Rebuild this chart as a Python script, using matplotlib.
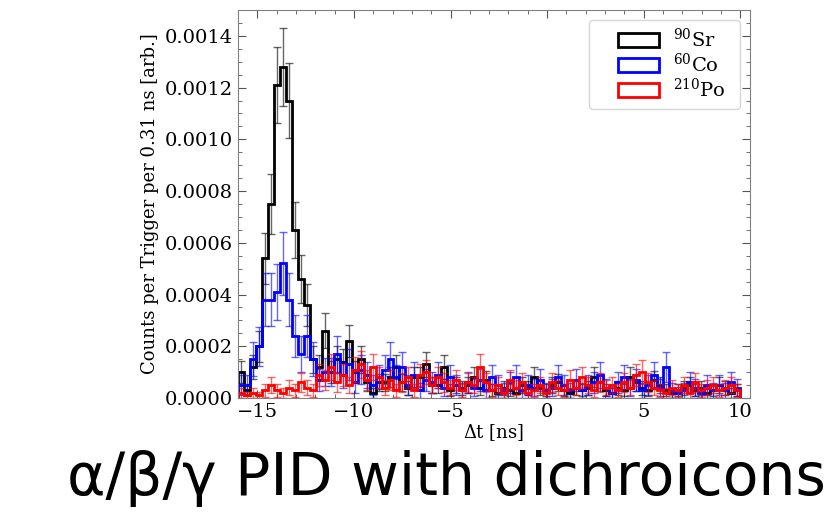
import numpy as np
import matplotlib
matplotlib.use('Agg')
import matplotlib.pyplot as plt
from matplotlib.patches import Rectangle, Polygon
from matplotlib.legend_handler import HandlerPatch

plt.rcParams['font.family'] = 'DejaVu Serif'
plt.rcParams['mathtext.fontset'] = 'dejavuserif'

# binning: 84 bins of ~0.31 ns between -16 and 10 ns
t_lo, t_hi, n_bins = -16.0, 10.0, 84

# counts per trigger per bin, in units of 1e-4
sr90 = [1.0, 0.3, 1.2, 2.0, 5.4, 7.5, 12.1, 12.8, 11.5, 6.5,
        4.6, 3.6, 1.5, 1.2, 2.6, 1.0, 1.5, 1.4, 2.2, 1.0,
        1.5, 0.6, 0.2, 0.6, 0.6, 0.8, 1.2, 0.6, 0.4, 0.8,
        0.8, 1.3, 0.5, 0.5, 1.2, 0.3, 0.5, 0.4, 0.5, 0.8,
        0.4, 0.7, 0.3, 0.2, 0.4, 0.3, 0.2, 0.5, 0.4, 0.8,
        0.4, 0.3, 0.5, 0.6, 0.3, 0.2, 0.4, 0.3, 0.4, 0.8,
        0.6, 0.3, 0.2, 0.4, 0.3, 0.8, 0.6, 0.4, 0.3, 0.7,
        0.5, 0.3, 0.2, 0.3, 0.4, 0.5, 0.3, 0.4, 0.2, 0.3,
        0.5, 0.4, 0.2, 0.3]
sr90_err = [0.42, 0.23, 0.46, 0.60, 0.99, 1.16, 1.48, 1.52, 1.44, 1.08,
            0.91, 0.80, 0.52, 0.46, 0.68, 0.42, 0.52, 0.50, 0.63, 0.42,
            0.52, 0.33, 0.19, 0.33, 0.33, 0.38, 0.46, 0.33, 0.27, 0.38,
            0.38, 0.48, 0.30, 0.30, 0.46, 0.23, 0.30, 0.27, 0.30, 0.38,
            0.27, 0.35, 0.23, 0.19, 0.27, 0.23, 0.19, 0.30, 0.27, 0.38,
            0.27, 0.23, 0.30, 0.33, 0.23, 0.19, 0.27, 0.23, 0.27, 0.38,
            0.33, 0.23, 0.19, 0.27, 0.23, 0.38, 0.33, 0.27, 0.23, 0.35,
            0.30, 0.23, 0.19, 0.23, 0.27, 0.30, 0.23, 0.27, 0.19, 0.23,
            0.30, 0.27, 0.19, 0.23]

co60 = [0.5, 0.5, 1.5, 2.0, 3.8, 3.8, 4.1, 5.2, 3.8, 2.4,
        1.7, 2.4, 1.5, 0.7, 1.0, 1.0, 1.7, 0.9, 1.3, 0.6,
        1.1, 0.9, 0.5, 0.8, 1.1, 1.5, 0.8, 1.2, 0.5, 0.9,
        0.3, 0.7, 0.6, 0.9, 0.4, 0.8, 0.5, 0.3, 0.6, 0.4,
        0.7, 0.3, 0.8, 0.5, 0.3, 0.6, 0.8, 0.3, 0.5, 0.4,
        0.7, 0.3, 0.4, 0.8, 0.5, 0.3, 0.7, 0.3, 0.5, 0.6,
        0.9, 0.4, 0.2, 0.6, 0.8, 0.4, 0.7, 0.3, 0.5, 0.9,
        0.4, 1.2, 0.3, 0.2, 0.3, 0.6, 0.4, 0.2, 0.5, 0.3,
        0.5, 0.3, 0.6, 0.4]
co60_err = [0.37, 0.37, 0.65, 0.75, 1.03, 1.03, 1.07, 1.21, 1.03, 0.82,
            0.69, 0.82, 0.65, 0.44, 0.53, 0.53, 0.69, 0.50, 0.60, 0.41,
            0.55, 0.50, 0.37, 0.47, 0.55, 0.65, 0.47, 0.58, 0.37, 0.50,
            0.29, 0.44, 0.41, 0.50, 0.33, 0.47, 0.37, 0.29, 0.41, 0.33,
            0.44, 0.29, 0.47, 0.37, 0.29, 0.41, 0.47, 0.29, 0.37, 0.33,
            0.44, 0.29, 0.33, 0.47, 0.37, 0.29, 0.44, 0.29, 0.37, 0.41,
            0.50, 0.33, 0.24, 0.41, 0.47, 0.33, 0.44, 0.29, 0.37, 0.50,
            0.33, 0.58, 0.29, 0.24, 0.29, 0.41, 0.33, 0.24, 0.37, 0.29,
            0.37, 0.29, 0.41, 0.33]

po210 = [0.2, 0.1, 0.2, 0.1, 0.3, 0.5, 0.3, 0.2, 0.4, 0.3,
         0.6, 0.4, 0.3, 0.9, 0.7, 1.2, 0.6, 0.9, 0.5, 1.1,
         1.3, 0.7, 1.2, 0.8, 0.4, 0.7, 0.3, 0.6, 0.8, 0.3,
         0.9, 1.0, 0.5, 0.8, 0.6, 0.4, 0.7, 0.3, 0.6, 0.5,
         1.2, 0.6, 0.3, 0.5, 0.2, 0.7, 0.4, 0.6, 0.2, 0.3,
         0.5, 0.2, 0.6, 0.4, 0.3, 0.7, 0.4, 0.8, 0.5, 0.3,
         0.6, 0.4, 0.5, 0.3, 0.6, 0.4, 0.9, 1.0, 0.6, 0.4,
         0.3, 0.2, 0.4, 0.3, 0.5, 0.2, 0.6, 0.3, 0.4, 0.5,
         0.3, 0.4, 0.5, 0.3]
po210_err = [0.20, 0.14, 0.20, 0.14, 0.25, 0.32, 0.25, 0.20, 0.29, 0.25,
             0.35, 0.29, 0.25, 0.43, 0.38, 0.50, 0.35, 0.43, 0.32, 0.48,
             0.52, 0.38, 0.50, 0.41, 0.29, 0.38, 0.25, 0.35, 0.41, 0.25,
             0.43, 0.46, 0.32, 0.41, 0.35, 0.29, 0.38, 0.25, 0.35, 0.32,
             0.50, 0.35, 0.25, 0.32, 0.20, 0.38, 0.29, 0.35, 0.20, 0.25,
             0.32, 0.20, 0.35, 0.29, 0.25, 0.38, 0.29, 0.41, 0.32, 0.25,
             0.35, 0.29, 0.32, 0.25, 0.35, 0.29, 0.43, 0.46, 0.35, 0.29,
             0.25, 0.20, 0.29, 0.25, 0.32, 0.20, 0.35, 0.25, 0.29, 0.32,
             0.25, 0.29, 0.32, 0.25]

series = [
    (sr90, sr90_err, 'black', r'$^{90}$Sr'),
    (co60, co60_err, 'blue', r'$^{60}$Co'),
    (po210, po210_err, 'red', r'$^{210}$Po'),
]

edges = np.linspace(t_lo, t_hi, n_bins + 1)
centers = 0.5 * (edges[:-1] + edges[1:])

fig = plt.figure(figsize=(8.33, 5.12), dpi=100)
ax = fig.add_axes([238 / 833, 1 - 398 / 512, (750 - 238) / 833, (398 - 10) / 512])

for vals, errs, col, lab in series:
    v = np.array(vals) * 1e-4
    e = np.array(errs) * 1e-4
    ax.hist(centers, bins=edges, weights=v, histtype='step', lw=2,
            color=col, label=lab)
    ax.errorbar(centers, v, yerr=e, fmt='none', ecolor=col, alpha=0.6,
                elinewidth=1, capsize=3)

ax.set_xlim(-16, 10.5)
ax.set_ylim(0, 0.0015)
ax.set_xlabel(r'$\Delta$t [ns]', fontsize=13, labelpad=1)
ax.set_ylabel('Counts per Trigger per 0.31 ns [arb.]', fontsize=13)
ax.minorticks_on()
ax.tick_params(which='both', direction='in', top=True, right=True,
               labelsize=14, color='#555555')
ax.tick_params(which='major', length=6)
ax.tick_params(which='minor', length=3)
for s in ax.spines.values():
    s.set_color('#808080')


# legend box drawn in the right part of a wider handle slot
def box_handle(legend, orig_handle, xdescent, ydescent, width, height, fontsize):
    w = 0.66 * width
    return Rectangle((-xdescent + width - w, -ydescent), w, height)


ax.legend(loc='upper right', fontsize=14, handlelength=3.2,
          labelspacing=0.1, handletextpad=0.7, borderpad=0.4,
          handler_map={Polygon: HandlerPatch(patch_func=box_handle)})
for t in ax.get_legend().get_texts():
    t.set_text(t.get_text() + '  ')

fig.text(0.536, 0.033, 'α/β/γ PID with dichroicons', fontsize=42,
         family='DejaVu Sans', ha='center', va='baseline')

fig.savefig('out.png', dpi=100)
